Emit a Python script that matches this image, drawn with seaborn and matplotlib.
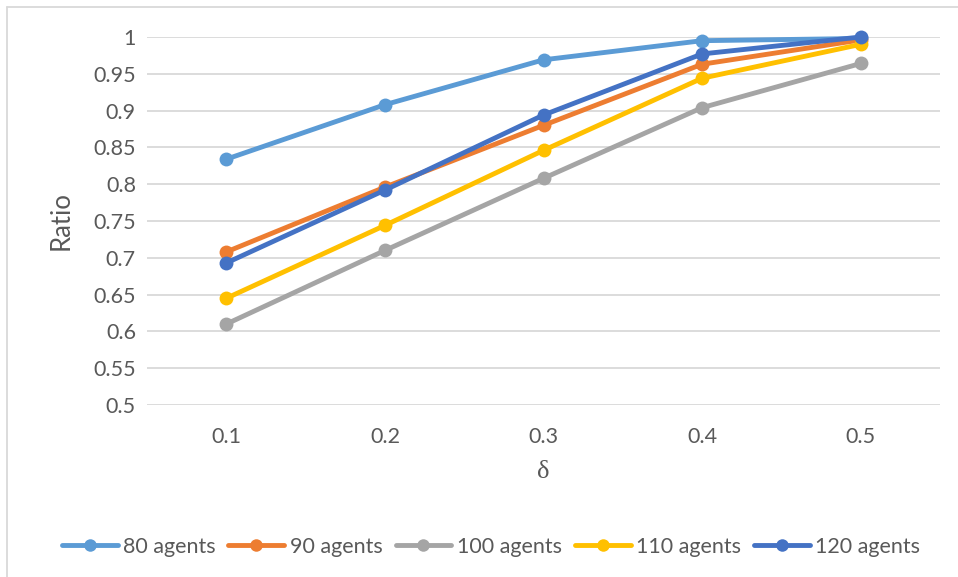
import matplotlib
matplotlib.use("Agg")
import matplotlib.pyplot as plt
import seaborn as sns
import pandas as pd
from matplotlib.lines import Line2D

# data
deltas = [0.1, 0.2, 0.3, 0.4, 0.5]
series_names = ["80 agents", "90 agents", "100 agents", "110 agents", "120 agents"]
ratio_80 = [0.834, 0.908, 0.969, 0.995, 0.998]
ratio_90 = [0.708, 0.796, 0.880, 0.963, 0.996]
ratio_100 = [0.610, 0.710, 0.808, 0.904, 0.964]
ratio_110 = [0.645, 0.744, 0.846, 0.944, 0.990]
ratio_120 = [0.693, 0.792, 0.894, 0.977, 1.000]
y_ticks = [0.5, 0.55, 0.6, 0.65, 0.7, 0.75, 0.8, 0.85, 0.9, 0.95, 1.0]
y_tick_labels = ["0.5", "0.55", "0.6", "0.65", "0.7", "0.75", "0.8", "0.85", "0.9", "0.95", "1"]

colors = ["#5B9BD5", "#ED7D31", "#A5A5A5", "#FFC000", "#4472C4"]

rows = []
for name, vals in zip(series_names, [ratio_80, ratio_90, ratio_100, ratio_110, ratio_120]):
    for d, v in zip(deltas, vals):
        rows.append({"delta": d, "ratio": v, "series": name})
df = pd.DataFrame(rows)

sns.set_style("white")
plt.rcParams["font.family"] = ["Lato", "DejaVu Sans"]
text_color = "#595959"

fig = plt.figure(figsize=(9.58, 5.77), dpi=100)
ax = fig.add_axes([147 / 958, 1 - 405 / 577, (940 - 147) / 958, (405 - 37) / 577])

sns.lineplot(data=df, x="delta", y="ratio", hue="series", hue_order=series_names,
             palette=colors, marker="o", markersize=10, markeredgewidth=0,
             linewidth=3.5, ax=ax, legend=False, clip_on=False)

ax.set_xlim(0.05, 0.55)
ax.set_ylim(0.5, 1.0)
ax.set_yticks(y_ticks)
ax.set_yticklabels(y_tick_labels)
ax.set_xticks(deltas)
ax.set_xticklabels([f"{d:.1f}" for d in deltas])
ax.grid(axis="y", color="#D9D9D9", linewidth=1.3)
ax.set_axisbelow(True)
for s in ax.spines.values():
    s.set_visible(False)
ax.tick_params(axis="both", length=0, labelsize=15.5, colors=text_color, pad=8)
ax.tick_params(axis="x", pad=16)

ax.set_ylabel("Ratio", fontsize=18.5, color=text_color, labelpad=14)
ax.set_xlabel("δ", fontsize=19, color=text_color, family=["Liberation Serif", "DejaVu Serif"], labelpad=10)

handles = [Line2D([0], [0], color=c, linewidth=3.5, marker="o", markersize=9, markeredgewidth=0)
           for c in colors]
fig.legend(handles, series_names, loc="center", bbox_to_anchor=(491 / 958, 1 - 547 / 577),
           ncol=5, frameon=False, fontsize=15.5, handlelength=2.6, handletextpad=0.25,
           columnspacing=0.6, labelcolor=text_color)

# chart area border (top and left visible)
fig.add_artist(Line2D([7 / 958, 1], [1 - 7 / 577, 1 - 7 / 577], color="#D9D9D9", linewidth=1.3))
fig.add_artist(Line2D([7 / 958, 7 / 958], [0, 1 - 7 / 577], color="#D9D9D9", linewidth=1.3))

fig.savefig("out.png", dpi=100)
